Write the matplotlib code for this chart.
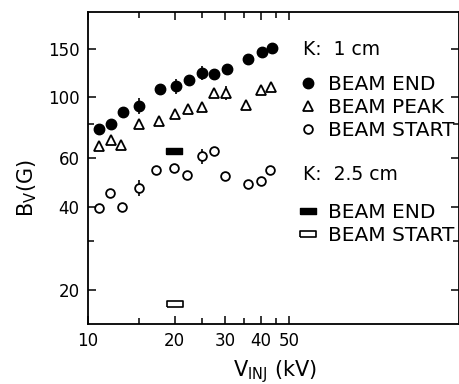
import numpy as np
import matplotlib.pyplot as plt
from matplotlib.lines import Line2D

plt.rcParams['font.family'] = ['DejaVu Sans']
plt.rcParams['mathtext.default'] = 'regular'

# K = 1 cm
v_end = [10.95, 12.0, 13.2, 15.1, 17.8, 20.2, 22.5, 25.0, 27.4, 30.4, 36.1, 40.2, 43.5]
b_end = [76.9, 80.2, 88.4, 93.0, 106.9, 109.7, 115.3, 122.6, 121.9, 126.4, 137.5, 146.2, 151.2]
e_end = [0, 0, 0, 6, 0, 7, 0, 7, 0, 5, 0, 0, 0]

v_peak = [10.95, 12.0, 13.0, 15.1, 17.7, 20.1, 22.3, 25.0, 27.4, 30.2, 35.4, 39.9, 43.3]
b_peak = [66.5, 69.8, 66.9, 80.2, 82.0, 87.2, 90.9, 92.2, 103.7, 103.7, 93.5, 106.0, 108.5]
e_peak = [0, 0, 0, 0, 0, 0, 0, 0, 0, 6, 0, 0, 0]

v_start = [10.95, 11.9, 13.1, 15.1, 17.3, 19.9, 22.1, 25.0, 27.4, 30.0, 36.1, 39.9, 43.0]
b_start = [39.7, 44.9, 39.9, 46.9, 54.5, 55.5, 52.3, 61.1, 63.6, 51.7, 48.5, 49.6, 54.2]
e_start = [0, 0, 0, 3, 0, 0, 0, 4, 0, 0, 0, 0, 0]

# K = 2.5 cm
v_end2 = [19.9]
b_end2 = [63.7]
v_start2 = [20.1]
b_start2 = [17.8]

x_ticks = [10, 20, 30, 40, 50]
x_minor = [15, 25, 35, 45]
y_ticks = [20, 40, 60, 100, 150]
y_minor = [30, 80]

rect = [(-1, -0.38), (1, -0.38), (1, 0.38), (-1, 0.38), (-1, -0.38)]

fig = plt.figure(figsize=(4.6, 3.84), dpi=100)
ax = fig.add_axes([0.1913, 0.15625, 0.8065, 0.8125])

ax.errorbar(v_end, b_end, yerr=e_end, fmt='o', ms=7.5, color='black',
            elinewidth=1.2, capsize=0)
ax.errorbar(v_peak, b_peak, yerr=e_peak, fmt='^', ms=6.5, mfc='white', mec='black',
            mew=1.3, color='black', elinewidth=1.2, capsize=0)
ax.errorbar(v_start, b_start, yerr=e_start, fmt='o', ms=6.3, mfc='white', mec='black',
            mew=1.3, color='black', elinewidth=1.2, capsize=0)
ax.plot(v_end2, b_end2, ls='none', marker=rect, ms=11.5, color='black')
ax.plot(v_start2, b_start2, ls='none', marker=rect, ms=11.5, mfc='white', mec='black', mew=1.2)

ax.set_xscale('log')
ax.set_yscale('log')
ax.set_xlim(10, 195)
ax.set_ylim(15, 204)

ax.set_xticks(x_ticks)
ax.set_xticklabels([str(t) for t in x_ticks])
ax.set_xticks(x_minor, minor=True)
ax.set_xticklabels([], minor=True)
ax.set_yticks(y_ticks)
ax.set_yticklabels([str(t) for t in y_ticks])
ax.set_yticks(y_minor, minor=True)
ax.set_yticklabels([], minor=True)

ax.tick_params(which='both', direction='in', top=True, right=True, width=1.1, labelsize=12)
ax.tick_params(which='major', length=6, pad=6)
ax.tick_params(which='minor', length=4)
for s in ax.spines.values():
    s.set_linewidth(1.3)

ax.set_xlabel('V$_{INJ}$ (kV)', fontsize=15)
ax.set_ylabel('B$_V$(G)', fontsize=15)
ax.xaxis.set_label_coords(0.504, -0.11)
ax.yaxis.set_label_coords(-0.132, 0.435)

ax.text(0.5795, 0.881, 'K:  1 cm', transform=ax.transAxes, fontsize=13.5, va='center')
ax.text(0.5795, 0.4776, 'K:  2.5 cm', transform=ax.transAxes, fontsize=13.5, va='center')

h1 = [Line2D([], [], ls='none', marker='o', ms=7.5, color='black'),
      Line2D([], [], ls='none', marker='^', ms=6.5, mfc='white', mec='black', mew=1.3),
      Line2D([], [], ls='none', marker='o', ms=6.3, mfc='white', mec='black', mew=1.3)]
leg1 = ax.legend(h1, ['BEAM END', 'BEAM PEAK', 'BEAM START'], loc='upper left',
                 bbox_to_anchor=(0.569, 0.799), frameon=False, fontsize=14.5,
                 borderpad=0, borderaxespad=0, labelspacing=0.2,
                 handlelength=0.9, handletextpad=0.55)
ax.add_artist(leg1)
h2 = [Line2D([], [], ls='none', marker=rect, ms=11.5, color='black'),
      Line2D([], [], ls='none', marker=rect, ms=11.5, mfc='white', mec='black', mew=1.2)]
ax.legend(h2, ['BEAM END', 'BEAM START'], loc='upper left',
          bbox_to_anchor=(0.569, 0.388), frameon=False, fontsize=14.5,
          borderpad=0, borderaxespad=0, labelspacing=0.2,
          handlelength=0.9, handletextpad=0.55)

fig.savefig('out.png', dpi=100)
